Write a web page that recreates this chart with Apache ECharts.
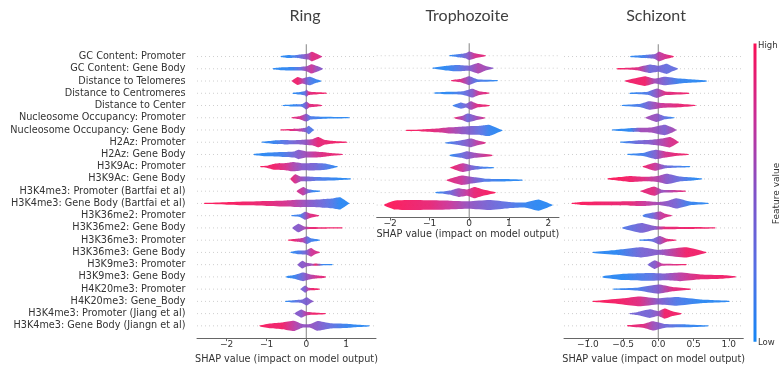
<!DOCTYPE html>
<html>
<head>
<meta charset="utf-8">
<script src="https://cdn.jsdelivr.net/npm/echarts@6/dist/echarts.min.js"></script>
<style>
  html, body { margin: 0; padding: 0; background: #ffffff; }
  #chart { width: 783px; height: 369px; }
</style>
</head>
<body>
<div id="chart"></div>
<script>
// Feature names, top to bottom
const features = [
  'GC Content: Promoter',
  'GC Content: Gene Body',
  'Distance to Telomeres',
  'Distance to Centromeres',
  'Distance to Center',
  'Nucleosome Occupancy: Promoter',
  'Nucleosome Occupancy: Gene Body',
  'H2Az: Promoter',
  'H2Az: Gene Body',
  'H3K9Ac: Promoter',
  'H3K9Ac: Gene Body',
  'H3K4me3: Promoter (Bartfai et al)',
  'H3K4me3: Gene Body (Bartfai et al)',
  'H3K36me2: Promoter',
  'H3K36me2: Gene Body',
  'H3K36me3: Promoter',
  'H3K36me3: Gene Body',
  'H3K9me3: Promoter',
  'H3K9me3: Gene Body',
  'H4K20me3: Promoter',
  'H4K20me3: Gene_Body',
  'H3K4me3: Promoter (Jiang et al)',
  'H3K4me3: Gene Body (Jiangn et al)'
];

const stageTitles = ['Ring', 'Trophozoite', 'Schizont'];
const axisTitle = 'SHAP value (impact on model output)';

// Tick values of each SHAP axis
const ringTicks = [-2, -1, 0, 1];
const trophTicks = [-2, -1, 0, 1, 2];
const schizTicks = [-1.0, -0.5, 0.0, 0.5, 1.0];

// SHAP distribution profiles, one per feature.
// Each knot: [SHAP value, point density (half-thickness in row units), mean feature value 0=low..1=high]
const ringProfiles = [
  [[-0.63,0.04,0.05],[-0.45,0.12,0.05],[-0.3,0.1,0.15],[-0.1,0.18,0.4],[0.05,0.25,0.6],[0.14,0.4,0.85],[0.25,0.25,0.85],[0.38,0.05,0.8]],
  [[-0.83,0.04,0.05],[-0.6,0.12,0.05],[-0.35,0.15,0.1],[-0.15,0.15,0.3],[0,0.2,0.6],[0.13,0.38,0.75],[0.28,0.22,0.55],[0.4,0.04,0.5]],
  [[-0.35,0.06,0.9],[-0.22,0.32,0.95],[-0.1,0.2,0.7],[0.0,0.3,0.45],[0.1,0.35,0.2],[0.25,0.15,0.1],[0.36,0.04,0.05]],
  [[-0.33,0.05,0.05],[-0.15,0.1,0.1],[-0.03,0.18,0.3],[0.0,0.3,0.5],[0.06,0.15,0.85],[0.3,0.08,0.95],[0.5,0.04,0.95]],
  [[-0.58,0.04,0.05],[-0.35,0.09,0.05],[-0.1,0.12,0.2],[0.0,0.33,0.5],[0.08,0.15,0.85],[0.25,0.1,0.9],[0.38,0.04,0.9]],
  [[-0.36,0.05,0.9],[-0.15,0.15,0.8],[0.0,0.33,0.5],[0.1,0.15,0.2],[0.5,0.08,0.05],[1.07,0.04,0.05]],
  [[-0.64,0.04,0.95],[-0.4,0.08,0.9],[-0.15,0.12,0.7],[0.0,0.2,0.4],[0.06,0.35,0.25],[0.12,0.2,0.2],[0.18,0.05,0.2]],
  [[-1.1,0.05,0.05],[-0.8,0.15,0.1],[-0.55,0.18,0.25],[-0.3,0.16,0.4],[0.0,0.22,0.55],[0.15,0.25,0.75],[0.3,0.42,0.9],[0.45,0.2,0.9],[0.7,0.1,0.95],[1.01,0.04,0.95]],
  [[-1.3,0.06,0.05],[-1.0,0.15,0.05],[-0.6,0.2,0.15],[-0.3,0.25,0.4],[-0.2,0.38,0.5],[0.0,0.25,0.6],[0.2,0.25,0.75],[0.4,0.2,0.85],[0.6,0.12,0.9],[0.9,0.04,0.9]],
  [[-1.14,0.03,1],[-1.0,0.08,0.95],[-0.8,0.25,0.95],[-0.5,0.3,0.8],[-0.33,0.38,0.65],[-0.1,0.28,0.5],[0.2,0.3,0.4],[0.5,0.25,0.2],[0.76,0.05,0.05]],
  [[-0.38,0.1,0.9],[-0.28,0.38,0.8],[-0.15,0.2,0.6],[0.0,0.2,0.45],[0.3,0.15,0.2],[0.8,0.1,0.05],[1.1,0.04,0.05]],
  [[-0.22,0.08,0.8],[-0.08,0.35,0.7],[0.05,0.15,0.4],[0.15,0.1,0.1],[0.33,0.04,0.05]],
  [[-2.55,0.04,1],[-2.0,0.1,1],[-1.5,0.15,0.95],[-1.0,0.2,0.9],[-0.5,0.25,0.8],[-0.2,0.3,0.65],[0.1,0.3,0.5],[0.4,0.35,0.35],[0.65,0.4,0.2],[0.85,0.5,0.05],[1.06,0.05,0.05]],
  [[-0.36,0.05,0.1],[-0.15,0.12,0.15],[-0.03,0.33,0.5],[0.1,0.18,0.85],[0.3,0.05,0.9]],
  [[-0.33,0.08,0.5],[-0.2,0.35,0.5],[-0.05,0.12,0.6],[0.1,0.08,0.9],[0.5,0.06,0.95],[0.89,0.04,0.95]],
  [[-0.44,0.04,1],[-0.3,0.1,0.9],[-0.1,0.18,0.7],[0.02,0.32,0.35],[0.12,0.15,0.15],[0.32,0.04,0.05]],
  [[-0.38,0.05,0.05],[-0.2,0.15,0.15],[0.0,0.18,0.45],[0.12,0.35,0.75],[0.22,0.15,0.8],[0.32,0.04,0.85]],
  [[-0.2,0.08,0.5],[-0.1,0.32,0.5],[0.0,0.15,0.55],[0.15,0.08,0.6],[0.23,0.1,0.95],[0.4,0.06,0.1],[0.64,0.04,0.05]],
  [[-0.49,0.06,0.05],[-0.3,0.15,0.1],[-0.08,0.35,0.4],[0.1,0.2,0.65],[0.3,0.12,0.85],[0.47,0.06,0.9]],
  [[-0.13,0.06,0.4],[-0.03,0.3,0.45],[0.05,0.12,0.7],[0.15,0.1,0.95],[0.32,0.05,0.95]],
  [[-0.51,0.05,0.05],[-0.3,0.1,0.2],[-0.1,0.15,0.4],[0.01,0.33,0.45],[0.1,0.15,0.5],[0.16,0.04,0.5]],
  [[-0.28,0.06,0.5],[-0.13,0.33,0.5],[0.0,0.15,0.7],[0.15,0.1,0.95],[0.47,0.05,0.95]],
  [[-1.16,0.05,1],[-0.9,0.2,0.95],[-0.6,0.28,0.95],[-0.31,0.42,0.7],[-0.1,0.15,0.55],[0.1,0.15,0.55],[0.28,0.4,0.5],[0.6,0.22,0.3],[1.0,0.18,0.1],[1.3,0.1,0.05],[1.57,0.04,0.05]]
];

const trophProfiles = [
  [[-0.49,0.04,0.05],[-0.3,0.12,0.15],[-0.1,0.2,0.4],[0.0,0.35,0.55],[0.15,0.2,0.8],[0.4,0.04,0.9]],
  [[-0.91,0.05,0.05],[-0.6,0.18,0.05],[-0.3,0.25,0.2],[0.0,0.2,0.45],[0.23,0.42,0.65],[0.4,0.2,0.6],[0.59,0.04,0.5]],
  [[-0.44,0.05,0.95],[-0.2,0.15,0.8],[0.0,0.35,0.5],[0.2,0.12,0.2],[0.7,0.04,0.05]],
  [[-0.87,0.04,0.05],[-0.5,0.1,0.05],[-0.15,0.15,0.25],[0.08,0.35,0.5],[0.25,0.15,0.8],[0.49,0.04,0.9]],
  [[-0.4,0.05,0.1],[-0.21,0.25,0.25],[-0.08,0.15,0.4],[0.04,0.35,0.6],[0.2,0.15,0.85],[0.5,0.05,0.95]],
  [[-0.36,0.05,0.9],[-0.15,0.2,0.6],[-0.04,0.35,0.35],[0.15,0.2,0.55],[0.38,0.04,0.8]],
  [[-1.58,0.04,1],[-1.2,0.08,0.95],[-0.8,0.15,0.85],[-0.5,0.25,0.7],[-0.2,0.3,0.55],[0.1,0.35,0.4],[0.3,0.38,0.25],[0.5,0.45,0.1],[0.7,0.2,0.05],[0.82,0.04,0.05]],
  [[-0.59,0.05,0.1],[-0.3,0.15,0.3],[0.05,0.35,0.55],[0.2,0.2,0.7],[0.4,0.04,0.85]],
  [[-0.48,0.05,0.05],[-0.2,0.2,0.3],[-0.06,0.32,0.45],[0.15,0.2,0.6],[0.57,0.04,0.9]],
  [[-0.46,0.05,0.95],[-0.17,0.35,0.75],[0.05,0.2,0.45],[0.3,0.1,0.2],[0.61,0.04,0.05]],
  [[-0.55,0.06,0.9],[-0.19,0.38,0.75],[0.1,0.25,0.5],[0.4,0.12,0.2],[0.9,0.1,0.05],[1.33,0.05,0.05]],
  [[-0.84,0.03,0.05],[-0.7,0.08,0.15],[-0.45,0.2,0.4],[-0.27,0.35,0.6],[-0.05,0.25,0.75],[0.13,0.45,0.9],[0.35,0.25,0.95],[0.65,0.04,1]],
  [[-2.13,0.08,1],[-1.9,0.35,1],[-1.5,0.4,0.95],[-1.0,0.38,0.9],[-0.5,0.35,0.75],[0.0,0.3,0.55],[0.5,0.4,0.4],[1.0,0.25,0.25],[1.4,0.2,0.1],[1.75,0.45,0.05],[2.09,0.05,0.05]]
];

const schizProfiles = [
  [[-0.39,0.05,0.05],[-0.2,0.12,0.15],[-0.05,0.2,0.5],[0.01,0.4,0.7],[0.1,0.2,0.8],[0.21,0.04,0.95]],
  [[-0.58,0.04,1],[-0.5,0.06,0.95],[-0.3,0.12,0.85],[-0.12,0.35,0.35],[0.0,0.25,0.4],[0.12,0.42,0.3],[0.2,0.2,0.3],[0.27,0.04,0.3]],
  [[-0.46,0.06,0.95],[-0.19,0.4,0.95],[-0.05,0.2,0.6],[0.09,0.35,0.4],[0.3,0.2,0.1],[0.5,0.12,0.05],[0.68,0.04,0.05]],
  [[-0.4,0.05,0.05],[-0.15,0.12,0.2],[-0.02,0.38,0.55],[0.1,0.15,0.85],[0.43,0.05,0.95]],
  [[-0.51,0.05,0.05],[-0.25,0.15,0.2],[-0.13,0.35,0.45],[0.05,0.2,0.75],[0.3,0.15,0.9],[0.52,0.05,0.95]],
  [[-0.17,0.06,0.6],[-0.02,0.35,0.55],[0.08,0.15,0.3],[0.22,0.04,0.05]],
  [[-0.65,0.05,0.05],[-0.4,0.15,0.05],[-0.25,0.18,0.6],[-0.1,0.2,0.6],[0.09,0.42,0.45],[0.2,0.2,0.6],[0.25,0.04,0.6]],
  [[-0.53,0.05,0.05],[-0.3,0.15,0.35],[-0.1,0.2,0.5],[0.05,0.3,0.65],[0.17,0.42,0.8],[0.28,0.05,0.85]],
  [[-0.43,0.05,0.05],[-0.2,0.15,0.15],[-0.04,0.38,0.45],[0.1,0.25,0.8],[0.25,0.12,0.9],[0.42,0.04,0.95]],
  [[-0.21,0.05,0.95],[-0.05,0.33,0.75],[0.1,0.12,0.4],[0.25,0.08,0.2],[0.44,0.04,0.05]],
  [[-0.71,0.05,1],[-0.55,0.15,1],[-0.4,0.25,0.95],[-0.2,0.18,0.85],[0.0,0.25,0.65],[0.12,0.42,0.5],[0.3,0.2,0.3],[0.5,0.12,0.05],[0.61,0.04,0.05]],
  [[-0.24,0.05,0.9],[-0.06,0.38,0.85],[0.05,0.12,0.55],[0.2,0.1,0.7],[0.38,0.04,0.9]],
  [[-1.22,0.04,1],[-1.1,0.12,1],[-0.8,0.15,0.95],[-0.4,0.18,0.9],[-0.2,0.2,0.75],[0.0,0.12,0.6],[0.15,0.25,0.5],[0.26,0.42,0.4],[0.45,0.15,0.1],[0.7,0.04,0.05]],
  [[-0.21,0.08,0.15],[-0.08,0.25,0.35],[0.03,0.35,0.7],[0.1,0.15,0.8],[0.18,0.04,0.85]],
  [[-0.5,0.06,0.2],[-0.24,0.4,0.4],[-0.05,0.15,0.5],[0.1,0.1,0.9],[0.5,0.08,0.95],[0.8,0.04,0.95]],
  [[-0.26,0.04,0.05],[-0.08,0.12,0.3],[0.02,0.35,0.55],[0.12,0.12,0.85],[0.24,0.04,0.95]],
  [[-0.92,0.05,0.05],[-0.6,0.2,0.05],[-0.24,0.42,0.4],[0.0,0.2,0.5],[0.1,0.25,0.6],[0.4,0.42,0.95],[0.67,0.04,0.95]],
  [[-0.14,0.06,0.4],[-0.05,0.35,0.5],[0.05,0.1,0.75],[0.39,0.04,0.95]],
  [[-0.78,0.06,0.05],[-0.5,0.25,0.05],[-0.1,0.32,0.25],[0.1,0.28,0.5],[0.31,0.35,0.7],[0.6,0.2,0.9],[0.9,0.15,0.95],[1.09,0.04,0.95]],
  [[-0.63,0.05,0.05],[-0.3,0.12,0.15],[0.0,0.38,0.5],[0.2,0.18,0.85],[0.45,0.04,0.95]],
  [[-0.92,0.03,1],[-0.83,0.08,1],[-0.5,0.25,0.95],[-0.27,0.4,0.85],[0.0,0.25,0.5],[0.26,0.35,0.2],[0.6,0.15,0.05],[1.0,0.04,0.05]],
  [[-0.4,0.03,0.4],[-0.3,0.12,0.4],[-0.12,0.35,0.4],[0.0,0.2,0.55],[0.09,0.42,0.95],[0.2,0.2,0.95],[0.32,0.04,0.95]],
  [[-0.43,0.06,0.95],[-0.2,0.18,0.85],[-0.08,0.38,0.6],[0.1,0.15,0.35],[0.4,0.12,0.1],[0.7,0.04,0.05]]
];

// Blue (low) -> purple -> red (high) feature-value colour scale
const colorScale = [
  [0.00, [20, 135, 245]],
  [0.25, [85, 110, 228]],
  [0.50, [128, 82, 200]],
  [0.75, [200, 45, 150]],
  [1.00, [250, 15, 85]]
];
function featureColor(t) {
  t = Math.max(0, Math.min(1, t));
  for (let i = 1; i < colorScale.length; i++) {
    if (t <= colorScale[i][0]) {
      const a = colorScale[i - 1], b = colorScale[i];
      const f = (t - a[0]) / (b[0] - a[0]);
      const c = a[1].map((v, k) => Math.round(v + (b[1][k] - v) * f));
      return 'rgb(' + c.join(',') + ')';
    }
  }
  return 'rgb(250,15,85)';
}

const FONT = 'DejaVu Sans';
const TEXT_COLOR = '#333333';
const AXIS_COLOR = '#666666';

const panels = [
  { profiles: ringProfiles, ticks: ringTicks, min: -2.746, max: 1.75, nameGap: 14, grid: { left: 197, top: 44.3, width: 179, height: 297.6 }, labels: true, fmt: v => (v < 0 ? '\u2212' : '') + Math.abs(v) },
  { profiles: trophProfiles, ticks: trophTicks, min: -2.34, max: 2.27, nameGap: 12, grid: { left: 376.7, top: 43.3, width: 182.3, height: 174.2 }, labels: false, fmt: v => (v < 0 ? '\u2212' : '') + Math.abs(v) },
  { profiles: schizProfiles, ticks: schizTicks, min: -1.338, max: 1.206, nameGap: 14, grid: { left: 564, top: 44.3, width: 179.3, height: 297.6 }, labels: false, fmt: v => (v < 0 ? '\u2212' : '') + Math.abs(v).toFixed(1) }
];

function violinRenderer(profiles) {
  return function (params, api) {
    const row = api.value(0);
    const knots = profiles[row];
    const unit = Math.abs(api.size([0, 1])[1]);
    const cs = params.coordSys;
    const yc = api.coord([0, row])[1];
    const xs = knots.map(k => api.coord([k[0], row])[0]);
    const top = [], bottom = [];
    knots.forEach((k, i) => {
      const hh = Math.max(k[1] * unit, 0.6);
      top.push([xs[i], yc - hh]);
      bottom.unshift([xs[i], yc + hh]);
    });
    const x0 = xs[0], x1 = xs[xs.length - 1];
    const pts = [[x0 - 1, yc]].concat(top, [[x1 + 1, yc]], bottom);
    const span = (x1 - x0) + 2;
    const stops = knots.map((k, i) => ({ offset: (xs[i] - x0 + 1) / span, color: featureColor(k[2]) }));
    return {
      type: 'group',
      children: [
        { type: 'line', silent: true,
          shape: { x1: cs.x, y1: yc, x2: cs.x + cs.width, y2: yc },
          style: { stroke: '#cfcfcf', lineWidth: 1, lineDash: [1, 3] } },
        { type: 'polygon',
          shape: { points: pts, smooth: 0.15 },
          style: { fill: new echarts.graphic.LinearGradient(0, 0, 1, 0, stops), opacity: 0.92 } }
      ]
    };
  };
}

function zeroLineRenderer(params, api) {
  const cs = params.coordSys;
  const x = api.coord([0, 0])[0];
  return { type: 'line', silent: true,
    shape: { x1: x, y1: cs.y, x2: x, y2: cs.y + cs.height },
    style: { stroke: '#999999', lineWidth: 1.2 } };
}

const grids = [], xAxes = [], yAxes = [], series = [];
panels.forEach((p, i) => {
  const n = p.profiles.length;
  grids.push(Object.assign({ containLabel: false }, p.grid));
  xAxes.push({
    type: 'value', gridIndex: i, min: p.min, max: p.max, position: 'bottom',
    name: axisTitle, nameLocation: 'middle', nameGap: p.nameGap,
    nameTextStyle: { fontFamily: FONT, fontSize: 9.7, color: TEXT_COLOR, verticalAlign: 'top' },
    axisLine: { show: true, onZero: false, lineStyle: { color: AXIS_COLOR, width: 1 } },
    axisTick: { show: true, length: 3, lineStyle: { color: AXIS_COLOR }, customValues: p.ticks },
    axisLabel: { show: true, customValues: p.ticks, formatter: p.fmt, fontFamily: FONT, fontSize: 9, color: TEXT_COLOR, margin: 2 },
    splitLine: { show: false }
  });
  yAxes.push({
    type: 'value', gridIndex: i, min: -1, max: n, inverse: true,
    axisLine: { show: false, onZero: false }, axisTick: { show: false }, splitLine: { show: false },
    axisLabel: {
      show: p.labels,
      customValues: features.slice(0, n).map((_, k) => k),
      formatter: v => features[v],
      fontFamily: FONT, fontSize: 9.7, color: TEXT_COLOR, margin: 11.5
    }
  });
  series.push({
    type: 'custom', xAxisIndex: i, yAxisIndex: i, z: 1, silent: true,
    data: [[0]], renderItem: zeroLineRenderer
  });
  series.push({
    type: 'custom', xAxisIndex: i, yAxisIndex: i, z: 2, silent: true,
    data: p.profiles.map((_, k) => [k]),
    encode: { x: -1, y: 0 },
    renderItem: violinRenderer(p.profiles)
  });
});

const titleX = [305, 467, 656];
const graphics = stageTitles.map((t, i) => ({
  type: 'text', x: titleX[i], y: 16,
  style: { text: t, align: 'center', verticalAlign: 'middle', font: '16px Lato', fill: '#404040' }
}));
// Colour bar for the feature value
graphics.push({
  type: 'rect', shape: { x: 753.5, y: 43.5, width: 3, height: 298.2 },
  style: { fill: new echarts.graphic.LinearGradient(0, 1, 0, 0,
    colorScale.map(s => ({ offset: s[0], color: featureColor(s[0]) }))) }
});
graphics.push({ type: 'text', x: 758, y: 45.5, style: { text: 'High', verticalAlign: 'middle', font: '8.5px "DejaVu Sans"', fill: TEXT_COLOR } });
graphics.push({ type: 'text', x: 758, y: 343, style: { text: 'Low', verticalAlign: 'middle', font: '8.5px "DejaVu Sans"', fill: TEXT_COLOR } });
graphics.push({ type: 'text', x: 777, y: 193.5, rotation: Math.PI / 2,
  style: { text: 'Feature value', align: 'center', verticalAlign: 'middle', font: '9px "DejaVu Sans"', fill: TEXT_COLOR } });

const chart = echarts.init(document.getElementById('chart'), null, { renderer: 'canvas' });
chart.setOption({
  animation: false,
  backgroundColor: '#ffffff',
  grid: grids,
  xAxis: xAxes,
  yAxis: yAxes,
  series: series,
  graphic: graphics
});
</script>
</body>
</html>
